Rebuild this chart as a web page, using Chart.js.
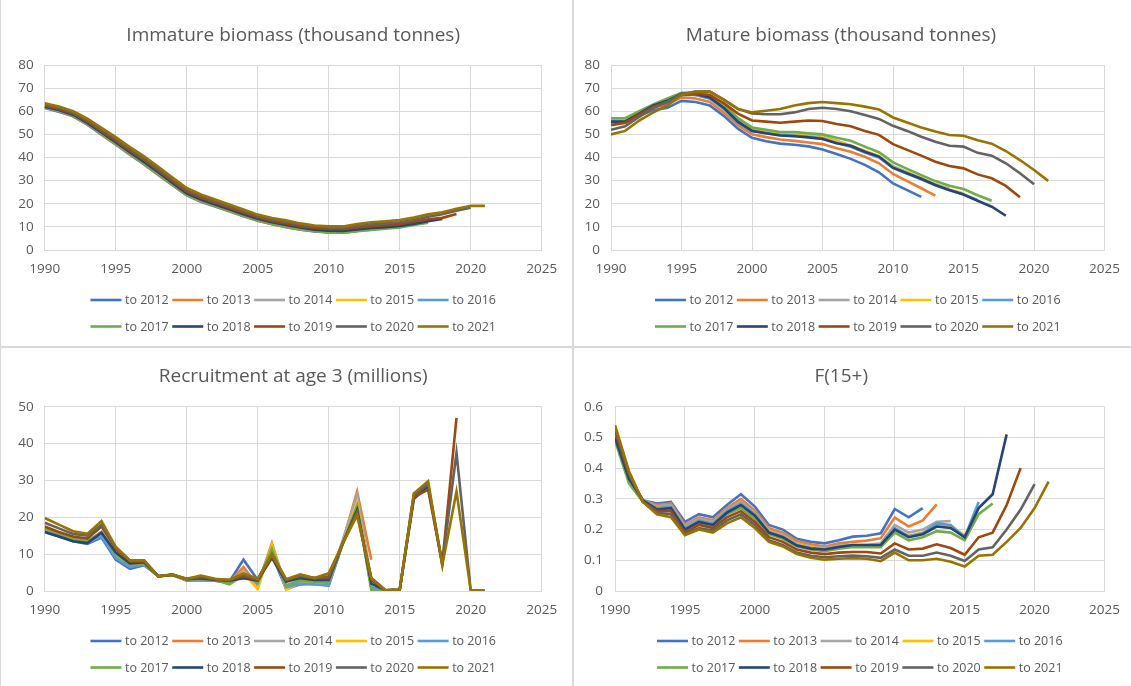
<!DOCTYPE html>
<html>
<head>
<meta charset="utf-8">
<script src="https://cdn.jsdelivr.net/npm/chart.js@4.4.1/dist/chart.umd.min.js"></script>
<style>
html,body{margin:0;padding:0;background:#fff;}
#wrap{position:relative;width:1131px;height:686px;overflow:hidden;background:#fff;}
.panel{position:absolute;}
.panel canvas{display:block;}
.rule{position:absolute;background:#d9d9d9;}
</style>
</head>
<body>
<div id="wrap">
  <div class="panel" style="left:0;top:0;"><canvas id="c1" width="572" height="346"></canvas></div>
  <div class="panel" style="left:574px;top:0;"><canvas id="c2" width="557" height="346"></canvas></div>
  <div class="panel" style="left:0;top:348px;"><canvas id="c3" width="572" height="338"></canvas></div>
  <div class="panel" style="left:574px;top:348px;"><canvas id="c4" width="557" height="338"></canvas></div>
  <div class="rule" style="left:572px;top:0;width:2px;height:686px;"></div>
  <div class="rule" style="left:0;top:346px;width:1131px;height:2px;"></div>
  <div class="rule" style="left:0;top:0;width:1px;height:686px;"></div>
</div>
<script>
// ---------- shared categories / labels ----------
const years = [1990,1991,1992,1993,1994,1995,1996,1997,1998,1999,2000,2001,2002,2003,2004,2005,2006,2007,2008,2009,2010,2011,2012,2013,2014,2015,2016,2017,2018,2019,2020,2021];
const seriesLabels = ['to 2012','to 2013','to 2014','to 2015','to 2016','to 2017','to 2018','to 2019','to 2020','to 2021'];
const xTicks = [1990,1995,2000,2005,2010,2015,2020,2025];
const xTickLabels = ['1990','1995','2000','2005','2010','2015','2020','2025'];
const biomassTicks = [0,10,20,30,40,50,60,70,80];
const biomassTickLabels = ['0','10','20','30','40','50','60','70','80'];
const recruitTicks = [0,10,20,30,40,50];
const recruitTickLabels = ['0','10','20','30','40','50'];
const fTicks = [0,0.1,0.2,0.3,0.4,0.5,0.6];
const fTickLabels = ['0','0.1','0.2','0.3','0.4','0.5','0.6'];

// ---------- Immature biomass (thousand tonnes) ----------
const imm2012 = [61.4,59.8,57.8,54.2,49.9,45.6,41.2,37,32.5,28,23.6,20.9,18.8,16.7,14.6,12.6,11.1,9.8,8.8,8,7.6,7.5,8.1];
const imm2013 = [61.6,60,58,54.4,50.1,45.8,41.4,37.2,32.7,28.2,23.8,21.1,19,16.9,14.8,12.8,11.3,10,8.9,8.1,7.7,7.6,8.2,8.8];
const imm2014 = [61.9,60.3,58.3,54.7,50.4,46.1,41.8,37.6,33.1,28.6,24.2,21.5,19.4,17.3,15.2,13.2,11.7,10.4,9.3,8.4,7.9,7.8,8.4,9,9.3];
const imm2015 = [62,60.4,58.4,54.8,50.5,46.2,41.9,37.7,33.2,28.7,24.3,21.6,19.5,17.4,15.3,13.3,11.8,10.5,9.4,8.5,8,7.9,8.5,9.1,9.5,10];
const imm2016 = [61.8,60.3,58.3,54.7,50.4,46.1,41.8,37.6,33.1,28.6,24.2,21.5,19.4,17.3,15.2,13.2,11.7,10.4,9.3,8.4,7.9,7.8,8.4,9,9.5,10,11];
const imm2017 = [61.8,60.2,58.2,54.6,50.3,46,41.6,37.4,32.9,28.4,24,21.3,19.2,17.1,15,13,11.5,10.2,9.1,8.2,7.6,7.5,8.1,8.7,9.2,9.8,10.8,11.8];
const imm2018 = [62,60.5,58.5,55,50.8,46.6,42.3,38.1,33.6,29,24.5,21.8,19.7,17.6,15.5,13.5,12,10.8,9.7,8.8,8.3,8.2,8.9,9.5,9.9,10.4,11.3,12.4,13.4];
const imm2019 = [62.5,61,59,55.6,51.4,47.3,43,38.9,34.4,29.8,25.3,22.6,20.4,18.3,16.2,14.2,12.6,11.5,10.3,9.5,9.1,9,9.7,10.3,10.7,11.2,12.2,13.3,13.9,15.6];
const imm2020 = [63,61.5,59.5,56.2,52,48,43.7,39.6,35.1,30.5,26,23.3,21.1,19,16.9,14.8,13.2,12.1,10.9,10.1,9.7,9.6,10.4,11.1,11.5,12,13,14.4,15.5,17,18.3];
const imm2021 = [63.5,62,60,56.8,52.8,48.8,44.5,40.5,36,31.3,26.8,24,21.8,19.7,17.5,15.3,13.8,12.8,11.5,10.6,10.2,10.2,11.2,12,12.4,13,14,15.4,16.3,17.8,19.1,19.1];

// ---------- Mature biomass (thousand tonnes) ----------
const mat2012 = [55.5,55,58,60.5,61.5,64.5,64,62.5,58,52.5,48.5,47,46,45.5,44.8,43.5,41.5,39.4,36.8,33.6,28.8,25.9,23];
const mat2013 = [54.5,55,58.5,61.5,63,66,65.5,64,59.5,54,50,48.8,47.8,47.2,46.5,45.8,44,42.5,40.3,37.5,32.9,29.8,26.7,23.5];
const mat2014 = [56,56.5,59.5,62.5,64.5,67.5,67,65.5,61,55.5,52,51,50.5,50.3,49.8,49,47.2,45,42.7,40.6,36.2,33.6,31,28.4,26.5];
const mat2015 = [56,56,59,62.5,64.5,67.5,67.5,66,61.5,56,52,50.8,50.2,50,49.5,48.8,47,45.2,42.8,40.6,35.8,33.4,31,28.3,26,24.5];
const mat2016 = [55.5,55.5,59,62,64,67,67,65.5,61,55,51.5,50.5,49.8,49.5,49,48.3,46.3,44.6,42.2,40,35.4,33,30.6,28,25.8,24,21.5];
const mat2017 = [57,57,60,63,65.5,68,68,67,63,57,53,52,51,51,50.5,50,48.5,47.2,44.7,42.3,37.9,35.1,32.4,29.8,27.8,26.4,23.7,21.3];
const mat2018 = [55.5,55.5,59,62.5,64.5,67.5,67.5,66,61.5,55.5,51.5,50.5,49.5,49.2,48.7,48,46.2,45.1,42.5,40.4,35.6,33.2,30.8,28.1,25.9,24,21.3,18.7,14.8];
const mat2019 = [54,55,58.5,62,64,67,67.5,67,63.5,59,56,55.5,55,55.5,56,55.8,54.5,53.5,51.5,49.8,45.8,43.3,40.8,38.2,36.3,35.3,32.7,31,27.7,22.8];
const mat2020 = [52,53.5,57.5,61.5,64,67.5,68.5,68.5,65,61,59,58.7,58.7,59.5,61,61.5,61,60,58.4,56.7,53.7,51.5,49,46.8,45.1,44.7,42,40.8,37.5,33.2,28.4];
const mat2021 = [50,51.5,56,59.5,62.5,67,68.5,68.5,65,61,59.5,60.2,61,62.5,63.5,64,63.5,63,62,60.8,57.3,55.1,53,51.2,49.7,49.4,47.5,46,42.8,38.9,34.6,29.9];

// ---------- Recruitment at age 3 (millions) ----------
const rec2012 = [16,14.8,13.5,12.8,14.5,8.5,6,7,4,4.3,2.8,3,2.8,2.5,8.5,3,10,0.5,1.8,2,1.5,13,24];
const rec2013 = [16.5,15.2,14,13.2,15.5,9.5,7,7.5,4,4.3,3,2.8,2.8,2.5,6.5,1.5,13,1,2.5,2.5,2,13.5,27,8.5];
const rec2014 = [17,15.5,14.3,13.5,16,10,7.5,7.8,4,4.3,3.2,3.2,3,2.5,5.5,2,12,1.5,3,2.8,2.5,14,26,3,0.2];
const rec2015 = [16.8,15.3,14,13.2,15,9.5,7,7.5,4,4.4,3,3.3,2.8,2.3,5,0.5,12.5,0.3,2.2,2,1.8,13,24,1,0.2,0.3];
const rec2016 = [16.2,15,13.8,13,14.8,9,6.5,7.2,4,4.3,2.9,3,2.8,2.2,4.5,2,11,1,2,1.8,1.5,13,23,1,0.2,0.3,26.5];
const rec2017 = [17,15.5,14.2,13.5,16,10,7.2,7.5,4,4.4,3.1,3.3,3,1.8,4.2,2.5,11.5,1.5,2.8,2.5,2.2,13,23,0.2,0.2,0.3,26,29.5];
const rec2018 = [16,14.8,13.5,13,15.8,10.5,7.5,7.8,4,4.4,3.2,3.5,3,2.8,3.5,2.8,9,2.5,3.5,3,3,13,22,2,0.2,0.3,25,28.5,7];
const rec2019 = [17.5,16,14.8,14.2,17.5,11.5,8,8,4,4.4,3.3,3.8,3.2,3,4,3,9.5,3,4,3.5,3.5,13,21.5,3,0.2,0.3,25.5,27.5,7.5,47];
const rec2020 = [18.5,17,15.5,15,18,11.8,8.3,8.3,4,4.5,3.2,4,3.2,3,4.5,3.2,10,3,4.2,3.5,4,13,21,3.5,0.2,0.3,26,29,7.5,37.5,0.2];
const rec2021 = [19.8,18,16.2,15.5,19,12,8.3,8.3,4,4.4,3.3,4.2,3.3,3,4.8,3.3,10,3.2,4.5,3.5,4.8,13,20.5,3.5,0.2,0.3,26.5,29.8,7,27,0.2,0.2];

// ---------- F(15+) ----------
const f2012 = [0.50,0.37,0.295,0.285,0.29,0.225,0.25,0.24,0.28,0.315,0.275,0.215,0.2,0.17,0.16,0.155,0.165,0.177,0.18,0.188,0.267,0.24,0.27];
const f2013 = [0.51,0.375,0.295,0.28,0.285,0.215,0.24,0.23,0.27,0.3,0.262,0.205,0.19,0.163,0.152,0.145,0.155,0.16,0.164,0.172,0.239,0.21,0.23,0.282];
const f2014 = [0.51,0.375,0.295,0.275,0.28,0.21,0.235,0.225,0.265,0.29,0.255,0.198,0.182,0.155,0.145,0.14,0.148,0.15,0.15,0.155,0.215,0.19,0.2,0.225,0.228];
const f2015 = [0.50,0.37,0.295,0.27,0.275,0.205,0.23,0.22,0.26,0.285,0.25,0.195,0.178,0.152,0.142,0.137,0.145,0.148,0.148,0.152,0.2,0.18,0.19,0.215,0.21,0.182];
const f2016 = [0.50,0.37,0.295,0.27,0.275,0.205,0.23,0.22,0.26,0.285,0.25,0.193,0.177,0.15,0.14,0.136,0.145,0.148,0.148,0.15,0.205,0.178,0.188,0.22,0.215,0.175,0.29];
const f2017 = [0.49,0.35,0.29,0.265,0.265,0.195,0.22,0.21,0.25,0.27,0.235,0.185,0.17,0.145,0.135,0.13,0.138,0.143,0.143,0.143,0.19,0.165,0.175,0.195,0.19,0.165,0.25,0.285];
const f2018 = [0.50,0.365,0.295,0.265,0.27,0.2,0.225,0.215,0.255,0.28,0.245,0.19,0.175,0.148,0.138,0.135,0.143,0.15,0.15,0.15,0.2,0.175,0.185,0.21,0.205,0.175,0.27,0.315,0.51];
const f2019 = [0.52,0.38,0.29,0.26,0.26,0.19,0.215,0.205,0.24,0.26,0.225,0.175,0.16,0.135,0.125,0.12,0.125,0.127,0.127,0.122,0.155,0.135,0.138,0.152,0.14,0.118,0.175,0.19,0.28,0.40];
const f2020 = [0.53,0.385,0.29,0.255,0.25,0.185,0.205,0.197,0.23,0.25,0.215,0.165,0.15,0.125,0.115,0.11,0.113,0.115,0.113,0.108,0.135,0.115,0.115,0.125,0.115,0.098,0.135,0.142,0.2,0.265,0.348];
const f2021 = [0.54,0.39,0.29,0.25,0.24,0.182,0.2,0.19,0.22,0.24,0.205,0.16,0.145,0.12,0.108,0.102,0.105,0.107,0.105,0.097,0.125,0.1,0.1,0.105,0.095,0.08,0.115,0.118,0.16,0.205,0.27,0.356];

// ---------- styles ----------
const seriesColors = ['#4472C4','#ED7D31','#A5A5A5','#FFC000','#5B9BD5','#70AD47','#264478','#9E480E','#636363','#997300'];
const FONT = "'Open Sans', 'DejaVu Sans', sans-serif";
const TEXT = '#595959';
const GRID = '#d9d9d9';

Chart.defaults.font.family = FONT;
Chart.defaults.color = TEXT;

const gridLegend = {
  id: 'gridLegend',
  afterDraw(chart, args, opts) {
    const ctx = chart.ctx;
    const ds = chart.data.datasets;
    const ca = chart.chartArea;
    ctx.save();
    ctx.font = opts.fontSize + 'px ' + FONT;
    ctx.textBaseline = 'middle';
    ctx.textAlign = 'left';
    const cols = opts.columns;
    const lastW = ctx.measureText(ds[cols - 1].label).width;
    const totalW = (cols - 1) * opts.colWidth + opts.lineLen + opts.gap + lastW;
    const x0 = (ca.left + ca.right) / 2 - totalW / 2;
    ds.forEach((d, i) => {
      const r = Math.floor(i / cols), c = i % cols;
      const x = x0 + c * opts.colWidth;
      const y = ca.bottom + opts.rowOffset + r * opts.rowGap;
      ctx.strokeStyle = d.borderColor;
      ctx.lineWidth = opts.lineWidth;
      ctx.lineCap = 'butt';
      ctx.beginPath();
      ctx.moveTo(x, y);
      ctx.lineTo(x + opts.lineLen, y);
      ctx.stroke();
      ctx.fillStyle = TEXT;
      ctx.fillText(d.label, x + opts.lineLen + opts.gap, y + 0.5);
    });
    ctx.restore();
  }
};

function makeSets(arrays) {
  return arrays.map((arr, i) => ({
    label: seriesLabels[i],
    data: arr.map((v, j) => ({x: years[j], y: v})),
    borderColor: seriesColors[i],
    backgroundColor: seriesColors[i],
    borderWidth: 2.6,
    pointRadius: 0,
    pointHoverRadius: 0,
    tension: 0,
    fill: false,
    order: arrays.length - i
  }));
}

function makeChart(id, title, arrays, yTicks, yLabels, box) {
  const W = box.W, H = box.H;
  const tSize = 19;
  const lh = tSize * 1.2;
  new Chart(document.getElementById(id), {
    type: 'line',
    data: {datasets: makeSets(arrays)},
    plugins: [gridLegend],
    options: {
      responsive: false,
      animation: false,
      devicePixelRatio: 1,
      events: [],
      layout: {padding: {left: 0, right: W - box.R, top: 0, bottom: 0}},
      plugins: {
        legend: {display: false},
        tooltip: {enabled: false},
        title: {
          display: true, text: title, color: TEXT, fullSize: box.titleFull,
          font: {size: tSize, weight: 'normal', family: FONT, lineHeight: 1.2},
          padding: {top: box.titleC - lh / 2, bottom: box.T - box.titleC - lh / 2}
        },
        gridLegend: {columns: 5, colWidth: 81.8, lineLen: 31, gap: 3.5, fontSize: 12.5, lineWidth: 2.6, rowOffset: 50, rowGap: 26.5}
      },
      scales: {
        x: {
          type: 'linear', min: 1990, max: 2025,
          afterBuildTicks: s => { s.ticks = xTicks.map(v => ({value: v})); },
          afterFit: s => { s.height = H - box.B; },
          grid: {color: GRID, lineWidth: 1, drawTicks: false},
          border: {color: GRID, width: 1},
          ticks: {padding: 11, color: TEXT, font: {size: 13.5}, maxRotation: 0, autoSkip: false,
                  callback: (v, i) => xTickLabels[i]}
        },
        y: {
          min: yTicks[0], max: yTicks[yTicks.length - 1],
          afterBuildTicks: s => { s.ticks = yTicks.map(v => ({value: v})); },
          afterFit: s => { s.width = box.L; },
          grid: {color: GRID, lineWidth: 1, drawTicks: false},
          border: {color: GRID, width: 1},
          ticks: {padding: box.yPad, color: TEXT, font: {size: 13.5}, autoSkip: false,
                  callback: (v, i) => yLabels[i]}
        }
      }
    }
  });
}

makeChart('c1', 'Immature biomass (thousand tonnes)',
  [imm2012, imm2013, imm2014, imm2015, imm2016, imm2017, imm2018, imm2019, imm2020, imm2021],
  biomassTicks, biomassTickLabels,
  {W: 572, H: 346, L: 44.7, R: 541.7, T: 65, B: 250, titleC: 35.5, yPad: 11, titleFull: false});

makeChart('c2', 'Mature biomass (thousand tonnes)',
  [mat2012, mat2013, mat2014, mat2015, mat2016, mat2017, mat2018, mat2019, mat2020, mat2021],
  biomassTicks, biomassTickLabels,
  {W: 557, H: 346, L: 37, R: 534, T: 65, B: 250, titleC: 35.5, yPad: 11, titleFull: true});

makeChart('c3', 'Recruitment at age 3 (millions)',
  [rec2012, rec2013, rec2014, rec2015, rec2016, rec2017, rec2018, rec2019, rec2020, rec2021],
  recruitTicks, recruitTickLabels,
  {W: 572, H: 338, L: 44.7, R: 541.7, T: 58.7, B: 243, titleC: 28.5, yPad: 11, titleFull: false});

makeChart('c4', 'F(15+)',
  [f2012, f2013, f2014, f2015, f2016, f2017, f2018, f2019, f2020, f2021],
  fTicks, fTickLabels,
  {W: 557, H: 338, L: 41, R: 534.5, T: 58.7, B: 243, titleC: 28.5, yPad: 12, titleFull: true});
</script>
</body>
</html>
